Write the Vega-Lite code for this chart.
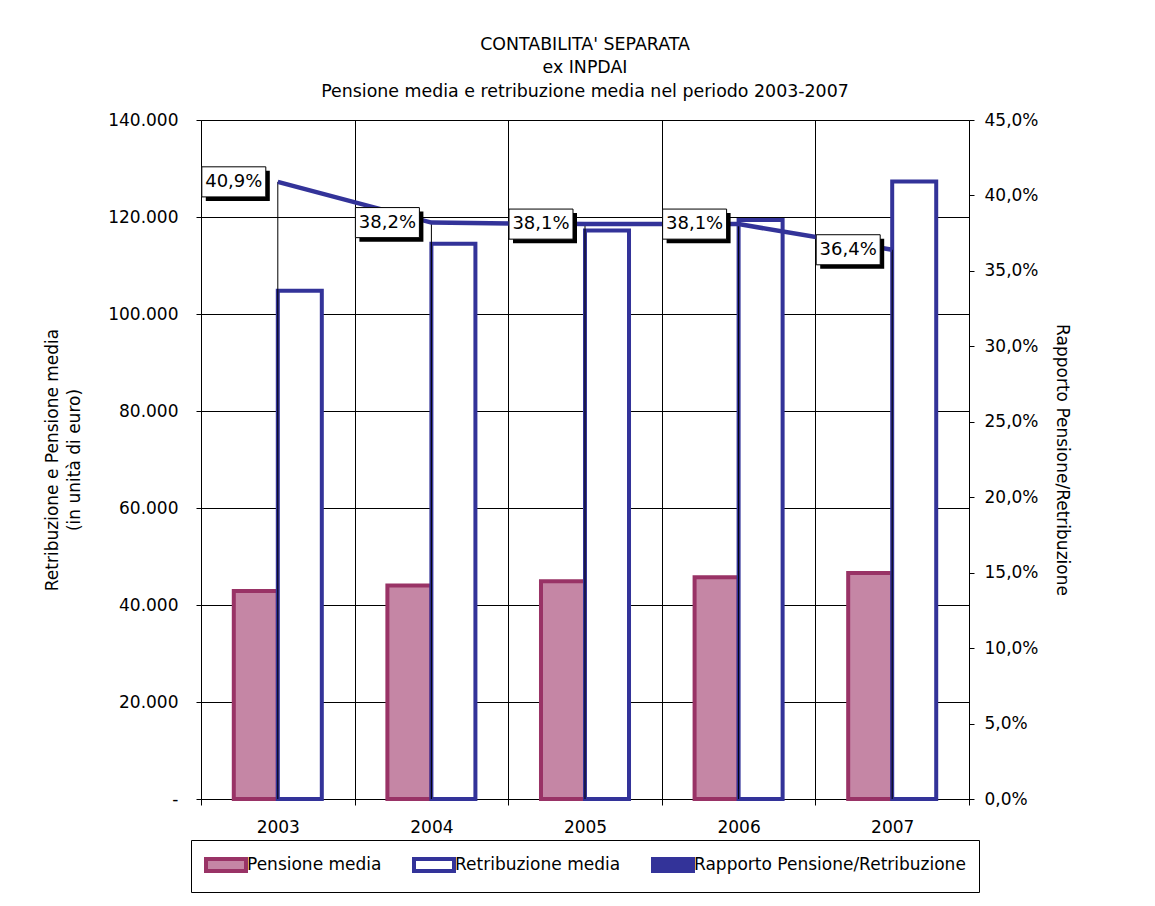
{
  "$schema": "https://vega.github.io/schema/vega-lite/v6.json",
  "width": 768,
  "height": 679,
  "padding": {"left": 43, "top": 35, "right": 5, "bottom": 5},
  "background": "white",
  "config": {
    "font": "DejaVu Sans",
    "view": {"stroke": null},
    "axis": {
      "labelFont": "DejaVu Sans",
      "titleFont": "DejaVu Sans",
      "labelColor": "black",
      "titleColor": "black",
      "domainColor": "black",
      "tickColor": "black",
      "gridColor": "black",
      "gridOpacity": 1,
      "labelFontSize": 17,
      "titleFontSize": 17,
      "titleFontWeight": "normal"
    }
  },
  "title": {
    "text": ["CONTABILITA' SEPARATA", "ex INPDAI", "Pensione media e retribuzione media nel periodo 2003-2007"],
    "fontSize": 17.4,
    "font": "DejaVu Sans",
    "fontWeight": "normal",
    "color": "black",
    "lineHeight": 23.5,
    "offset": 11,
    "anchor": "middle"
  },
  "datasets": {
    "barre": [
      {"anno": "2003", "serie": "Pensione media", "valore": 42900},
      {"anno": "2003", "serie": "Retribuzione media", "valore": 104800},
      {"anno": "2004", "serie": "Pensione media", "valore": 44000},
      {"anno": "2004", "serie": "Retribuzione media", "valore": 114500},
      {"anno": "2005", "serie": "Pensione media", "valore": 44900},
      {"anno": "2005", "serie": "Retribuzione media", "valore": 117200},
      {"anno": "2006", "serie": "Pensione media", "valore": 45700},
      {"anno": "2006", "serie": "Retribuzione media", "valore": 119400},
      {"anno": "2007", "serie": "Pensione media", "valore": 46600},
      {"anno": "2007", "serie": "Retribuzione media", "valore": 127300}
    ],
    "rapporto": [
      {"anno": "2003", "rapporto": 0.409, "etichetta": "40,9%"},
      {"anno": "2004", "rapporto": 0.382, "etichetta": "38,2%"},
      {"anno": "2005", "rapporto": 0.381, "etichetta": "38,1%"},
      {"anno": "2006", "rapporto": 0.381, "etichetta": "38,1%"},
      {"anno": "2007", "rapporto": 0.364, "etichetta": "36,4%"}
    ]
  },
  "encoding": {
    "x": {
      "field": "anno",
      "type": "ordinal",
      "scale": {"paddingInner": 0, "paddingOuter": 0},
      "axis": {
        "title": null,
        "labelAngle": 0,
        "tickBand": "extent",
        "grid": true,
        "tickSize": 6,
        "labelPadding": 14,
        "domainColor": "black"
      }
    }
  },
  "layer": [
    {
      "data": {"name": "barre"},
      "mark": {"type": "bar", "strokeWidth": 4},
      "encoding": {
        "xOffset": {
          "field": "serie",
          "type": "nominal",
          "scale": {"domain": ["Pensione media", "Retribuzione media"], "paddingOuter": 0.745, "paddingInner": 0}
        },
        "y": {
          "field": "valore",
          "type": "quantitative",
          "scale": {"domain": [0, 140000], "nice": false, "zero": true},
          "axis": {
            "orient": "left",
            "values": [0, 20000, 40000, 60000, 80000, 100000, 120000, 140000],
            "grid": true,
            "tickSize": 5,
            "labelPadding": 18,
            "labelExpr": "datum.value == 0 ? '-' : replace(format(datum.value, ',.0f'), ',', '.')",
            "title": ["Retribuzione e Pensione media", "(in unità di euro)"],
            "titlePadding": 24,
            "titleLineHeight": 22
          }
        },
        "fill": {
          "field": "serie",
          "type": "nominal",
          "scale": {
            "domain": ["Pensione media", "Retribuzione media", "Rapporto Pensione/Retribuzione"],
            "range": ["#c586a5", "#ffffff", "#333399"]
          },
          "legend": {
            "title": null,
            "orient": "none",
            "legendX": -10,
            "legendY": 720,
            "direction": "horizontal",
            "padding": 13,
            "strokeColor": "black",
            "columnPadding": 24,
            "labelOffset": 9,
            "symbolOffset": 10,
            "labelFontSize": 17,
            "labelFont": "DejaVu Sans",
            "labelColor": "black",
            "labelLimit": 0,
            "symbolSize": 400,
            "symbolType": "M-2,-0.6L2,-0.6L2,0.6L-2,0.6Z",
            "symbolStrokeWidth": 4,
            "symbolOpacity": 1
          }
        },
        "stroke": {
          "field": "serie",
          "type": "nominal",
          "scale": {
            "domain": ["Pensione media", "Retribuzione media", "Rapporto Pensione/Retribuzione"],
            "range": ["#993366", "#333399", "#333399"]
          },
          "legend": {
            "title": null,
            "orient": "none",
            "legendX": -10,
            "legendY": 720,
            "direction": "horizontal",
            "padding": 13,
            "strokeColor": "black",
            "columnPadding": 24,
            "labelOffset": 9,
            "symbolOffset": 10,
            "labelFontSize": 17,
            "labelFont": "DejaVu Sans",
            "labelColor": "black",
            "labelLimit": 0,
            "symbolSize": 400,
            "symbolType": "M-2,-0.6L2,-0.6L2,0.6L-2,0.6Z",
            "symbolStrokeWidth": 4,
            "symbolOpacity": 1
          }
        }
      }
    },
    {
      "data": {"name": "rapporto"},
      "encoding": {
        "y": {
          "field": "rapporto",
          "type": "quantitative",
          "scale": {"domain": [0, 0.45], "nice": false, "zero": true},
          "axis": {
            "orient": "right",
            "values": [0, 0.05, 0.1, 0.15, 0.2, 0.25, 0.3, 0.35, 0.4, 0.45],
            "grid": false,
            "tickSize": 5,
            "labelPadding": 10,
            "labelExpr": "replace(format(datum.value, '.1%'), '.', ',')",
            "title": "Rapporto Pensione/Retribuzione",
            "titleAngle": 90,
            "titlePadding": 14
          }
        }
      },
      "layer": [
        {
          "mark": {"type": "rule", "color": "black", "strokeWidth": 1},
          "encoding": {"y2": {"datum": 0}}
        },
        {
          "mark": {"type": "line", "strokeWidth": 4.5, "color": "#333399"},
          "encoding": {}
        },
        {
          "mark": {"type": "point", "shape": "M-1,-0.47L1,-0.47L1,0.47L-1,0.47Z", "size": 4096, "filled": true, "fill": "black", "strokeWidth": 0, "opacity": 1, "xOffset": -40, "yOffset": 4}
        },
        {
          "mark": {"type": "point", "shape": "M-1,-0.47L1,-0.47L1,0.47L-1,0.47Z", "size": 4096, "filled": true, "fill": "white", "stroke": "black", "strokeWidth": 1, "opacity": 1, "xOffset": -44}
        },
        {
          "mark": {"type": "text", "dx": -44, "fontSize": 18, "font": "DejaVu Sans", "color": "black", "baseline": "middle", "align": "center"},
          "encoding": {"text": {"field": "etichetta", "type": "nominal"}}
        }
      ]
    }
  ],
  "resolve": {"scale": {"y": "independent"}}
}
